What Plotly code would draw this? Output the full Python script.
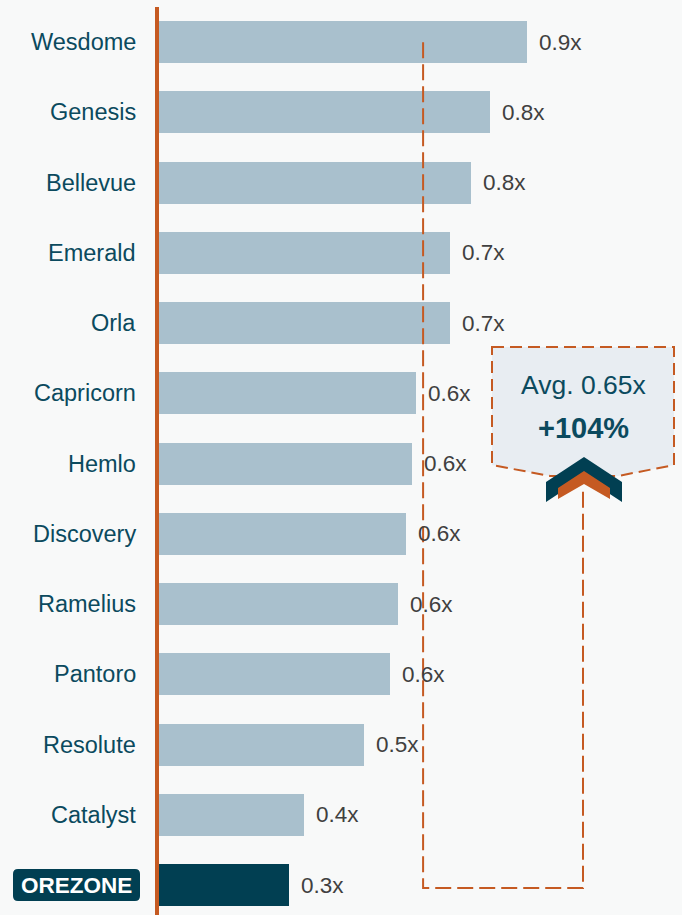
import plotly.graph_objects as go

# peer names, top to bottom
companies = ["Wesdome", "Genesis", "Bellevue", "Emerald", "Orla", "Capricorn", "Hemlo",
             "Discovery", "Ramelius", "Pantoro", "Resolute", "Catalyst", "OREZONE"]
# P/NAV multiple
multiples = [0.904, 0.814, 0.768, 0.716, 0.716, 0.633, 0.623, 0.609, 0.589, 0.570, 0.506, 0.359, 0.322]
avg_label = "Avg. 0.65x"
premium_label = "+104%"

LIGHT = "#A9C0CD"
DARK = "#013F52"
ORANGE = "#C55A22"
TEAL = "#0B4A5E"
BG = "#F8F9F9"
FONT = "Liberation Sans, Arial, sans-serif"

W, H = 682, 915
L, T = 157, 7          # plot area left/top in pixels
XS = 409.0             # pixels per 1.0x
YS = 70.25             # pixels per bar slot

n = len(companies)
ypos = [n - 1 - i for i in range(n)]
colors = [DARK if c == "OREZONE" else LIGHT for c in companies]
peers = multiples[:-1]
avg = sum(peers) / len(peers)


def dx(px):
    return (px - L) / XS


def dy(py):
    return (n - 0.5) - (py - T) / YS


def paper(px, py):
    return (px - L) / (W - L), (H - py) / (H - T)


fig = go.Figure()
fig.add_trace(go.Bar(
    x=multiples, y=ypos, orientation="h", width=0.6,
    marker=dict(color=colors, line=dict(width=0)),
    hoverinfo="skip",
))

ann = []
for c, v, y in zip(companies, multiples, ypos):
    ann.append(dict(x=v, y=y, xref="x", yref="y", text=f"{v:.1f}x", showarrow=False,
                    xanchor="left", xshift=10, font=dict(family=FONT, size=22.5, color="#404040")))
    if c == "OREZONE":
        ann.append(dict(x=paper(77, 0)[0], y=y, xref="paper", yref="y", text="<b>OREZONE</b>",
                        xanchor="center", showarrow=False, font=dict(family=FONT, size=22.5, color="white")))
    else:
        ann.append(dict(x=0, y=y, xref="paper", yref="y", text=c, showarrow=False,
                        xanchor="right", xshift=-19, font=dict(family=FONT, size=23.5, color=TEAL)))

ann.append(dict(x=dx(583), y=dy(385), xref="x", yref="y", text=avg_label, showarrow=False,
                xanchor="center", font=dict(family=FONT, size=26.5, color=TEAL)))
ann.append(dict(x=dx(583), y=dy(428), xref="x", yref="y", text=f"<b>{premium_label}</b>", showarrow=False,
                xanchor="center", font=dict(family=FONT, size=29, color=TEAL)))


def path(points, close=True):
    s = "M " + " L ".join(f"{x},{y}" for x, y in points)
    return s + (" Z" if close else "")


shapes = []
# dashed connector from the average line to the callout
shapes.append(dict(type="path", xref="x", yref="y", layer="above",
                   path=path([(avg, ypos[0]), (avg, dy(888)), (dx(583), dy(888)), (dx(583), dy(490))], close=False),
                   line=dict(color=ORANGE, width=2, dash="16px,6px")))
# callout box
box = [(dx(492), dy(347)), (dx(674), dy(347)), (dx(674), dy(465)), (dx(618), dy(476)),
       (dx(550), dy(476)), (dx(492), dy(465))]
shapes.append(dict(type="path", xref="x", yref="y", layer="above", path=path(box),
                   fillcolor="#E8EDF2", line=dict(color=ORANGE, width=2, dash="12px,6px")))
# chevrons
dark_chev = [(dx(546), dy(482)), (dx(584), dy(457)), (dx(622), dy(482)), (dx(622), dy(502)),
             (dx(584), dy(477)), (dx(546), dy(502))]
shapes.append(dict(type="path", xref="x", yref="y", layer="above", path=path(dark_chev),
                   fillcolor=DARK, line=dict(width=0)))
or_chev = [(dx(558), dy(488)), (dx(584), dy(471)), (dx(610), dy(488)), (dx(610), dy(499)),
           (dx(584), dy(484)), (dx(558), dy(499))]
shapes.append(dict(type="path", xref="x", yref="y", layer="above", path=path(or_chev),
                   fillcolor=ORANGE, line=dict(width=0)))
# orange axis line (paper refs so it isn't clipped in half)
shapes.append(dict(type="line", xref="paper", yref="paper", x0=0, x1=0, y0=0, y1=1,
                   line=dict(color=ORANGE, width=4), layer="above"))
# OREZONE badge with rounded corners
x0, x1, y0, y1, r = 13, 140, 869, 901, 5
bx0, by1 = paper(x0, y0)
bx1, by0 = paper(x1, y1)
rx = r / (W - L)
ry = r / (H - T)
badge = (f"M {bx0 + rx},{by1} L {bx1 - rx},{by1} Q {bx1},{by1} {bx1},{by1 - ry} "
         f"L {bx1},{by0 + ry} Q {bx1},{by0} {bx1 - rx},{by0} L {bx0 + rx},{by0} "
         f"Q {bx0},{by0} {bx0},{by0 + ry} L {bx0},{by1 - ry} Q {bx0},{by1} {bx0 + rx},{by1} Z")
shapes.append(dict(type="path", xref="paper", yref="paper", path=badge, fillcolor=DARK,
                   line=dict(width=0), layer="below"))

fig.update_layout(
    width=W, height=H,
    margin=dict(l=L, r=0, t=T, b=0, pad=0),
    paper_bgcolor=BG, plot_bgcolor=BG,
    showlegend=False,
    xaxis=dict(range=[0, (W - L) / XS], visible=False, fixedrange=True),
    yaxis=dict(range=[dy(H), n - 0.5], visible=False, fixedrange=True),
    annotations=ann, shapes=shapes,
    bargap=0,
)

fig.write_html("out.html", config={"displayModeBar": False},
               post_script="document.body.style.margin='0';document.body.style.overflow='hidden';")
